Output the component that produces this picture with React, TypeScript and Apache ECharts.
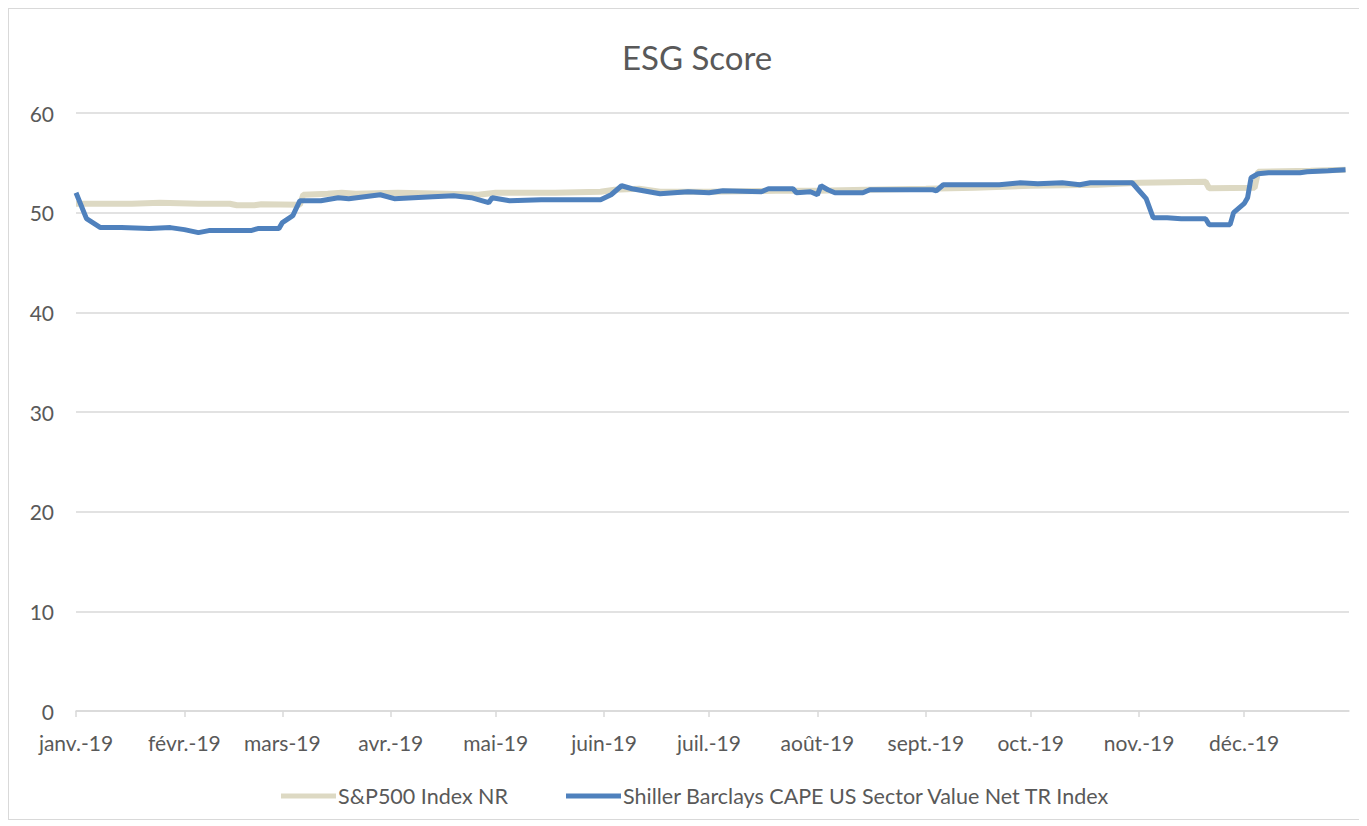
import React, { useEffect, useRef } from "react";
import * as echarts from "echarts";

const TITLE = "ESG Score";
const SERIES_NAMES = ["S&P500 Index NR", "Shiller Barclays CAPE US Sector Value Net TR Index"];
const MONTH_LABELS = [
  "janv.-19", "févr.-19", "mars-19", "avr.-19", "mai-19", "juin-19",
  "juil.-19", "août-19", "sept.-19", "oct.-19", "nov.-19", "déc.-19",
];

const spDates = [
  "2019-01-01", "2019-01-17", "2019-01-25", "2019-02-05", "2019-02-14", "2019-02-16",
  "2019-02-21", "2019-02-23", "2019-03-06", "2019-03-07", "2019-03-14", "2019-03-18",
  "2019-03-22", "2019-04-03", "2019-04-17", "2019-04-26", "2019-05-01", "2019-05-18",
  "2019-05-31", "2019-06-04", "2019-06-11", "2019-06-17", "2019-07-01", "2019-07-20",
  "2019-08-01", "2019-08-15", "2019-09-01", "2019-09-15", "2019-10-01", "2019-10-20",
  "2019-11-01", "2019-11-20", "2019-11-21", "2019-12-04", "2019-12-05", "2019-12-20",
  "2019-12-30",
];
const spValues = [
  50.9, 50.9, 51.0, 50.9, 50.9, 50.75,
  50.75, 50.85, 50.8, 51.8, 51.9, 52.0,
  51.9, 52.0, 51.9, 51.8, 52.0, 52.0,
  52.1, 52.3, 52.4, 52.1, 52.1, 52.2,
  52.2, 52.3, 52.4, 52.5, 52.7, 52.8,
  53.0, 53.1, 52.45, 52.5, 54.1, 54.2,
  54.3,
];

const capeDates = [
  "2019-01-01", "2019-01-04", "2019-01-08", "2019-01-14", "2019-01-22", "2019-01-28",
  "2019-02-01", "2019-02-05", "2019-02-08", "2019-02-20", "2019-02-22", "2019-02-28",
  "2019-03-01", "2019-03-04", "2019-03-06", "2019-03-12", "2019-03-17", "2019-03-20",
  "2019-03-29", "2019-04-02", "2019-04-13", "2019-04-19", "2019-04-24", "2019-04-29",
  "2019-04-30", "2019-05-05", "2019-05-14", "2019-05-28", "2019-05-31", "2019-06-03",
  "2019-06-06", "2019-06-09", "2019-06-17", "2019-06-25", "2019-07-01", "2019-07-05",
  "2019-07-16", "2019-07-18", "2019-07-25", "2019-07-26", "2019-07-30", "2019-08-01",
  "2019-08-02", "2019-08-04", "2019-08-06", "2019-08-14", "2019-08-16", "2019-09-03",
  "2019-09-04", "2019-09-06", "2019-09-22", "2019-09-28", "2019-10-03", "2019-10-10",
  "2019-10-15", "2019-10-18", "2019-10-30", "2019-11-01", "2019-11-03", "2019-11-05",
  "2019-11-09", "2019-11-13", "2019-11-20", "2019-11-21", "2019-11-27", "2019-11-28",
  "2019-12-01", "2019-12-02", "2019-12-03", "2019-12-05", "2019-12-08", "2019-12-17",
  "2019-12-19", "2019-12-25", "2019-12-30",
];
const capeValues = [
  52.0, 49.4, 48.5, 48.5, 48.4, 48.5,
  48.3, 48.0, 48.2, 48.2, 48.4, 48.4,
  49.0, 49.7, 51.2, 51.2, 51.5, 51.4,
  51.8, 51.4, 51.6, 51.7, 51.5, 51.0,
  51.5, 51.2, 51.3, 51.3, 51.3, 51.8,
  52.7, 52.4, 51.9, 52.1, 52.0, 52.2,
  52.1, 52.4, 52.4, 52.0, 52.1, 51.8,
  52.7, 52.3, 52.0, 52.0, 52.3, 52.3,
  52.2, 52.8, 52.8, 53.0, 52.9, 53.0,
  52.8, 53.0, 53.0, 52.2, 51.4, 49.5,
  49.5, 49.4, 49.4, 48.8, 48.8, 50.0,
  50.9, 51.5, 53.5, 53.9, 54.0, 54.0,
  54.1, 54.2, 54.3,
];

const Y_TICKS = [0, 10, 20, 30, 40, 50, 60];

const FONT = "Lato, 'Open Sans', sans-serif";
const GRAY = "#595959";
const LINE_GRAY = "#d9d9d9";

export default function App() {
  const ref = useRef<HTMLDivElement>(null);
  useEffect(() => {
    if (!ref.current) return;
    const chart = echarts.init(ref.current, undefined, { renderer: "svg" });
    const pair = (d: string[], v: number[]) => d.map((x, i) => [x, v[i]]);
    chart.setOption({
      animation: false,
      textStyle: { fontFamily: FONT },
      title: {
        text: TITLE,
        left: 613,
        top: 31,
        padding: 0,
        textStyle: { fontFamily: FONT, fontSize: 33, fontWeight: "normal", color: GRAY },
      },
      legend: {
        bottom: 12,
        left: 272,
        padding: 0,
        itemWidth: 55,
        itemHeight: 5,
        itemGap: 58,
        icon: "rect",
        textStyle: { fontFamily: FONT, fontSize: 21.5, color: GRAY, padding: [0, 0, 0, -3] },
        data: SERIES_NAMES,
      },
      grid: { left: 67, right: 10, top: 104, bottom: 108, containLabel: false },
      xAxis: {
        type: "time",
        min: "2019-01-01",
        max: "2019-12-31",
        minInterval: 28 * 86400000,
        maxInterval: 31 * 86400000,
        axisLine: { show: true, lineStyle: { color: LINE_GRAY, width: 1.5 } },
        axisTick: { show: true, length: 6, lineStyle: { color: LINE_GRAY, width: 1.5 } },
        minorTick: { show: false },
        splitLine: { show: false },
        axisLabel: {
          color: GRAY,
          fontSize: 21,
          fontFamily: FONT,
          margin: 21,
          hideOverlap: false,
          showMinLabel: true,
          formatter: (val: number) => {
            const dt = new Date(val);
            if (dt.getFullYear() !== 2019) return "";
            return MONTH_LABELS[dt.getMonth()];
          },
        },
      },
      yAxis: {
        type: "value",
        min: Y_TICKS[0],
        max: Y_TICKS[Y_TICKS.length - 1],
        interval: 10,
        axisLine: { show: false },
        axisTick: { show: false },
        splitLine: { lineStyle: { color: LINE_GRAY, width: 1.5 } },
        axisLabel: { color: GRAY, fontSize: 21, fontFamily: FONT, margin: 22 },
      },
      series: [
        {
          name: SERIES_NAMES[0],
          type: "line",
          data: pair(spDates, spValues),
          showSymbol: false,
          symbol: "none",
          itemStyle: { color: "#ddd9c3" },
          lineStyle: { color: "#ddd9c3", width: 6 },
          z: 2,
        },
        {
          name: SERIES_NAMES[1],
          type: "line",
          data: pair(capeDates, capeValues),
          showSymbol: false,
          symbol: "none",
          itemStyle: { color: "#4f81bd" },
          lineStyle: { color: "#4f81bd", width: 5 },
          z: 3,
        },
      ],
    });
    return () => chart.dispose();
  }, []);
  return (
    <div
      ref={ref}
      style={{
        width: 1352,
        height: 812,
        border: "1px solid #d9d9d9",
        boxSizing: "border-box",
        background: "#fff",
      }}
    />
  );
}
